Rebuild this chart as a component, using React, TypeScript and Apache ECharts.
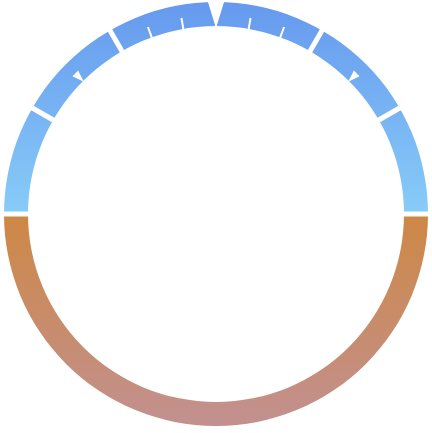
import { useEffect, useRef } from "react";
import * as echarts from "echarts";

// Scale of the upper half (value 0 at the left end, 180 at the right end)
const SCALE_MIN = 0;
const SCALE_MAX = 180;
// Split positions, in scale units, grouped per split gauge
const leftSplitRange = [0, 60];
const rightSplitRange = [120, 180];
const tickRange = [60, 120];
// Marker (notch) values on the scale
const markerValues = [90, 45, 135];
// Colours
const upperColors = ["#6699ee", "#88ccf8"];
const lowerColors = ["#ce8844", "#c29090"];

export default function App() {
  const ref = useRef<HTMLDivElement>(null);

  useEffect(() => {
    const chart = echarts.init(ref.current!, null, { renderer: "svg" });
    const center = [216, 214];
    const radius = 212;
    const ring = 24;
    const toAngle = (v: number) => 180 - ((v - SCALE_MIN) / (SCALE_MAX - SCALE_MIN)) * 180;

    const quiet = {
      type: "gauge",
      center,
      radius,
      axisLabel: { show: false },
      detail: { show: false },
      title: { show: false },
      anchor: { show: false },
      progress: { show: false },
    };

    const splitGauge = (range: number[]) => ({
      ...quiet,
      startAngle: toAngle(range[0]),
      endAngle: toAngle(range[1]),
      min: range[0],
      max: range[1],
      splitNumber: 2,
      axisLine: { show: false, lineStyle: { width: ring } },
      axisTick: { show: false },
      splitLine: { show: true, length: ring + 4, distance: -ring - 2, lineStyle: { color: "#ffffff", width: 5 } },
      pointer: { show: false },
      data: [],
    });

    const option: any = {
      animation: false,
      backgroundColor: "#ffffff",
      series: [
        {
          ...quiet,
          startAngle: 0,
          endAngle: -180,
          min: SCALE_MIN,
          max: SCALE_MAX,
          axisLine: {
            show: true,
            lineStyle: {
              width: ring,
              color: [[1, new echarts.graphic.LinearGradient(0, 0, 0, 1, [
                { offset: 0, color: lowerColors[0] },
                { offset: 1, color: lowerColors[1] },
              ])]],
            },
          },
          axisTick: { show: false },
          splitLine: { show: false },
          pointer: { show: false },
          data: [],
        },
        {
          ...quiet,
          startAngle: 180,
          endAngle: 0,
          min: SCALE_MIN,
          max: SCALE_MAX,
          axisLine: {
            show: true,
            lineStyle: {
              width: ring,
              color: [[1, new echarts.graphic.LinearGradient(0, 0, 0, 1, [
                { offset: 0, color: upperColors[0] },
                { offset: 1, color: upperColors[1] },
              ])]],
            },
          },
          axisTick: { show: false },
          splitLine: { show: false },
          pointer: { show: true, icon: "path://M0 0L10 0L5 10Z" },
          itemStyle: { color: "#ffffff" },
          data: markerValues.map((v, i) => ({
            value: v,
            pointer: i === 0
              ? { length: 29, width: 18, offsetCenter: [0, -186] }
              : { length: 12, width: 8, offsetCenter: [0, -187] },
          })),
        },
        splitGauge(leftSplitRange),
        splitGauge(rightSplitRange),
        {
          ...quiet,
          startAngle: toAngle(tickRange[0]),
          endAngle: toAngle(tickRange[1]),
          min: tickRange[0],
          max: tickRange[1],
          splitNumber: 2,
          axisLine: { show: false, lineStyle: { width: ring } },
          splitLine: { show: false },
          axisTick: { show: true, splitNumber: 3, length: 14, distance: -11, lineStyle: { color: "#ffffff", width: 2 } },
          pointer: { show: false },
          data: [],
        },
      ],
    };
    chart.setOption(option);
    return () => chart.dispose();
  }, []);

  return (
    <div
      ref={ref}
      style={{ position: "absolute", left: 0, top: 0, width: 432, height: 433 }}
    />
  );
}
